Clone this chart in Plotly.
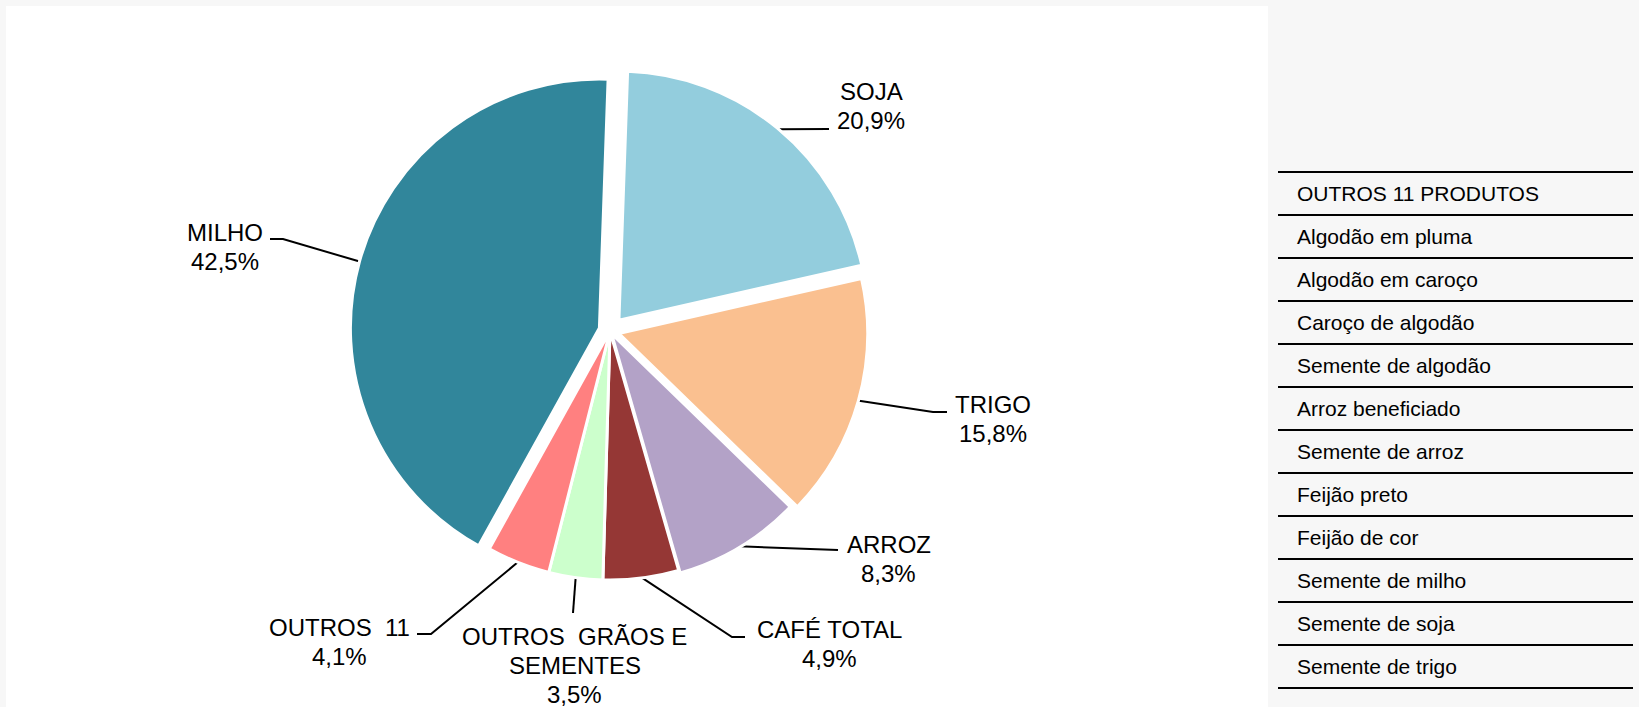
import math
import plotly.graph_objects as go

W, H = 1639, 707
FONT = "Liberation Sans, Arial, Helvetica, sans-serif"

# ---------------- data ----------------
categories = ["SOJA", "TRIGO", "ARROZ", "CAFÉ TOTAL", "OUTROS  GRÃOS E<br>SEMENTES", "OUTROS  11", "MILHO"]
shares = [20.9, 15.8, 8.3, 4.9, 3.5, 4.1, 42.5]
outros_items = ["OUTROS 11 PRODUTOS", "Algodão em pluma", "Algodão em caroço", "Caroço de algodão",
                "Semente de algodão", "Arroz beneficiado", "Semente de arroz", "Feijão preto",
                "Feijão de cor", "Semente de milho", "Semente de soja", "Semente de trigo"]

# ---------------- styles / layout ----------------
colors = ["#93CDDD", "#FAC090", "#B3A2C7", "#953735", "#CCFFCC", "#FF8080", "#31869B"]
pulls_px = [14, 9, 3, 0, 0, 0, 11]
CX, CY, R = 610, 331, 249
ROT = 2
label_pos = [(871, 91.5), (992.5, 404), (888.5, 544), (829, 629), (574.5, 636), (339.5, 627.5), (224.5, 232.5)]
leader_elbow = [(817, 129), (933, 412), (828, 550), (732, 637), (573, 613), (431, 634), (283, 239)]
leader_end = [(829, 129), (947, 412), (838, 550), (745, 637), (573, 613), (417, 634), (270, 239)]
LINE_GAP = 29
LABEL_SIZE = 24

max_pull = max(pulls_px) / R
side = 2 * R * (1 + max_pull)
dom_x = [(CX - side / 2) / W, (CX + side / 2) / W]
dom_y = [1 - (CY + side / 2) / H, 1 - (CY - side / 2) / H]

fig = go.Figure()

fig.add_trace(go.Pie(
    labels=categories, values=shares, sort=False, direction="clockwise", rotation=ROT,
    marker=dict(colors=colors, line=dict(color="white", width=3)),
    pull=[p / R for p in pulls_px], textinfo="none", hoverinfo="label+percent",
    domain=dict(x=dom_x, y=dom_y), showlegend=False,
))

# table of "outros" products (category axis with ruled rows)
ROW_H = 43
TBL_TOP = 172
n = len(outros_items)
pad = 0.1
y_top_px = TBL_TOP - pad * ROW_H
y_bot_px = TBL_TOP + (n + pad) * ROW_H
fig.add_trace(go.Scatter(x=[0] * n, y=list(range(n)), mode="markers", marker=dict(opacity=0),
                         hoverinfo="skip", showlegend=False, xaxis="x", yaxis="y"))

# leader lines (overlay pixel axes)
total = sum(shares)
lx, ly = [], []
cum = 0.0
for i, v in enumerate(shares):
    mid = math.radians(ROT + 360 * (cum + v / 2) / total)
    cum += v
    rr = R + pulls_px[i] - 1
    lx += [CX + rr * math.sin(mid), leader_elbow[i][0], leader_end[i][0], None]
    ly += [CY - rr * math.cos(mid), leader_elbow[i][1], leader_end[i][1], None]
fig.add_trace(go.Scatter(x=lx, y=ly, mode="lines", line=dict(color="black", width=2),
                         hoverinfo="skip", showlegend=False, xaxis="x2", yaxis="y2"))

annotations = []
for i, (cat, v) in enumerate(zip(categories, shares)):
    lines = cat.split("<br>") + [f"{v:.1f}".replace(".", ",") + "%"]
    for j, t in enumerate(lines):
        annotations.append(dict(text=t, x=label_pos[i][0], y=label_pos[i][1] + j * LINE_GAP,
                                xref="x2", yref="y2", showarrow=False, xanchor="center", yanchor="middle",
                                font=dict(family=FONT, size=LABEL_SIZE, color="black")))

fig.update_layout(
    width=W, height=H, margin=dict(l=0, r=0, t=0, b=0, pad=0),
    paper_bgcolor="#F7F7F7", plot_bgcolor="rgba(0,0,0,0)",
    font=dict(family=FONT, color="black"),
    showlegend=False,
    shapes=[dict(type="rect", xref="paper", yref="paper", x0=6 / W, x1=1268 / W, y0=0, y1=1 - 6 / H,
                 fillcolor="white", line=dict(width=0), layer="below")],
    xaxis=dict(domain=[1278 / W, 1633 / W], range=[0, 1], showgrid=False, zeroline=False,
               showticklabels=False, ticks="", showline=False, fixedrange=True),
    yaxis=dict(domain=[1 - y_bot_px / H, 1 - y_top_px / H], range=[n - 1 + 0.5 + pad, -0.5 - pad],
               tickmode="array", tickvals=list(range(n)), ticktext=outros_items,
               ticklabelposition="inside", ticklabelstandoff=16, ticks="",
               showgrid=False, zeroline=False, showline=False, fixedrange=True,
               tickfont=dict(family=FONT, size=21, color="black"),
               minor=dict(tickmode="array", tickvals=[k - 0.5 for k in range(n + 1)],
                          showgrid=True, gridcolor="black", gridwidth=2, ticks=""),
               anchor="x"),
    xaxis2=dict(domain=[0, 1], range=[0, W], visible=False, fixedrange=True, anchor="y2"),
    yaxis2=dict(domain=[0, 1], range=[H, 0], visible=False, fixedrange=True, anchor="x2"),
    annotations=annotations,
)

fig.write_html("out.html", config={"displayModeBar": False},
               post_script="document.body.style.margin='0';")
